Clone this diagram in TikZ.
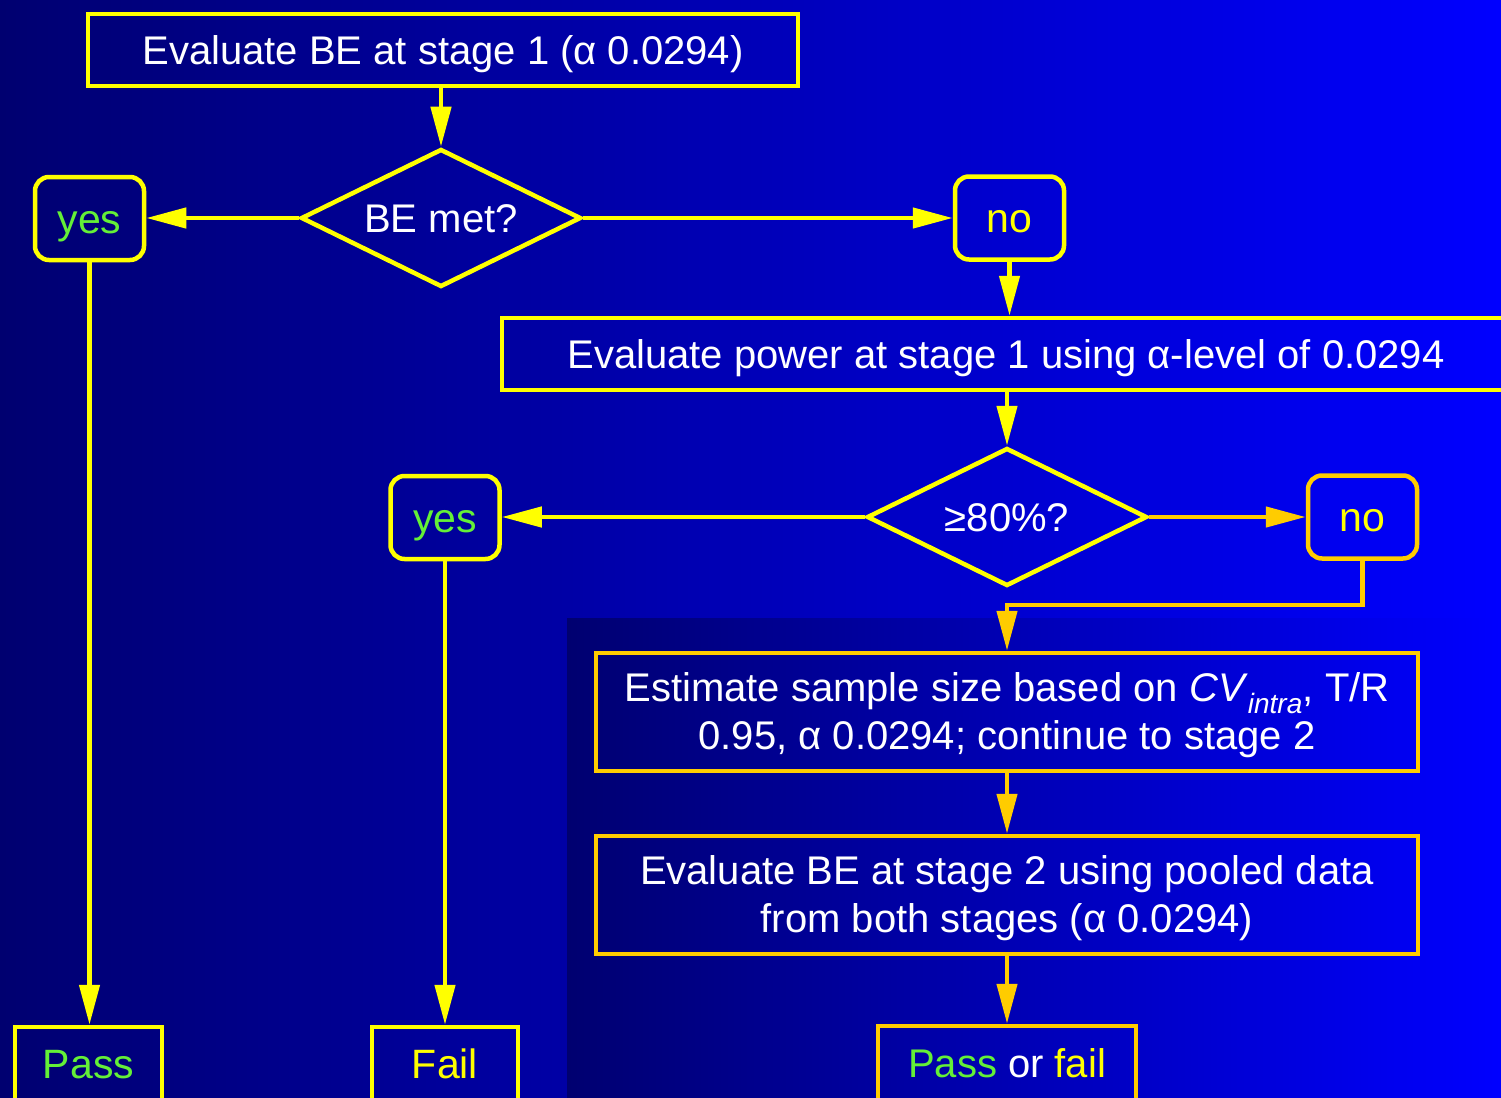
\documentclass[tikz,border=0pt]{standalone}
\usepackage{fontspec}
\setmainfont{Liberation Sans}
\usetikzlibrary{shapes.geometric,arrows.meta}
\definecolor{bgleft}{RGB}{0,0,112}
\definecolor{bgright}{RGB}{0,0,255}
\definecolor{yel}{RGB}{255,255,0}
\definecolor{gold}{RGB}{255,204,0}
\definecolor{grn}{RGB}{100,240,55}
\tikzset{
  every node/.style={font=\fontsize{40}{48}\selectfont, text=white},
  capc/.style={text height=28.6pt, text depth=0pt},
  capbig/.style={font=\fontsize{41}{49}\selectfont, text height=29.4pt, text depth=0pt},
  box/.style={draw=yel, line width=4.5pt, rectangle, inner sep=0pt, align=center},
  goldbox/.style={box, draw=gold},
  rbox/.style={box, rounded corners=14pt, minimum width=109pt, minimum height=83pt, capbig},
  dia/.style={draw=yel, line width=4.5pt, diamond, shape aspect=2.03, inner sep=0pt, minimum width=280pt, minimum height=138pt, capc},
  conn/.style={draw=yel, line width=4.5pt, -{Triangle[length=40pt,width=20pt]}},
  goldconn/.style={conn, draw=gold},
}
\begin{document}
\begin{tikzpicture}[x=1pt,y=-1pt]
\useasboundingbox (0,0) rectangle (1501,1097);
\clip (0,0) rectangle (1501,1097);
\shade[left color=bgleft, right color=bgright] (0,0) rectangle (1501,1097);
\shade[left color=bgleft, right color=bgright] (567,618) rectangle (1501,1097);

\node[box, capc, minimum width=710pt, minimum height=72pt] (top) at (443,50) {Evaluate BE at stage 1 (α 0.0294)};
\node[dia] (d1) at (441,218) {BE met?};
\node[rbox, text=grn] (yes1) at (89.5,218.5) {yes};
\node[rbox, text=yel] (no1) at (1009.5,218) {no};
\node[box, capc, minimum width=1008pt, minimum height=72pt] (power) at (1006,354) {Evaluate power at stage 1 using α-level of 0.0294};
\node[dia] (d2) at (1007,517) {≥80\%?};
\node[rbox, text=grn] (yes2) at (445,517.5) {yes};
\node[rbox, draw=gold, text=yel] (no2) at (1362.5,517) {no};
\node[goldbox, minimum width=822pt, minimum height=118pt, text depth=2pt] (sample) at (1007,712)
  {Estimate sample size based on \textit{CV}\textsubscript{\textit{intra}}, T/R\\0.95, α 0.0294; continue to stage 2};
\node[goldbox, minimum width=822pt, minimum height=118pt, text depth=2pt] (be2) at (1007,895)
  {Evaluate BE at stage 2 using pooled data\\from both stages (α 0.0294)};
\node[goldbox, capc, minimum width=258pt, minimum height=74pt] (pf) at (1007,1063)
  {\textcolor{grn}{Pass} or \textcolor{yel}{fail}};
\node[box, capbig, minimum width=147pt, minimum height=74pt, text=grn] (pass) at (88.5,1064) {Pass};
\node[box, capbig, minimum width=146pt, minimum height=74pt, text=yel] (fail) at (445,1064) {Fail};

\coordinate (j) at (1007,605);

\draw[conn] (top.south -| d1.north) -- (d1.north);
\draw[conn] (d1.west) -- (d1.west -| yes1.east);
\draw[conn] (d1.east) -- (d1.east -| no1.west);
\draw[conn] (no1.south) -- (no1.south |- power.north);
\draw[conn] (power.south -| d2.north) -- (d2.north);
\draw[conn] (d2.west) -- (d2.west -| yes2.east);
\draw[goldconn] (d2.east) -- (d2.east -| no2.west);
\draw[goldconn] (no2.south) |- (j) -- (sample.north);
\draw[goldconn] (sample.south) -- (be2.north);
\draw[goldconn] (be2.south) -- (pf.north);
\draw[conn] (yes1.south) -- (yes1.south |- pass.north);
\draw[conn] (yes2.south) -- (yes2.south |- fail.north);
\end{tikzpicture}
\end{document}
